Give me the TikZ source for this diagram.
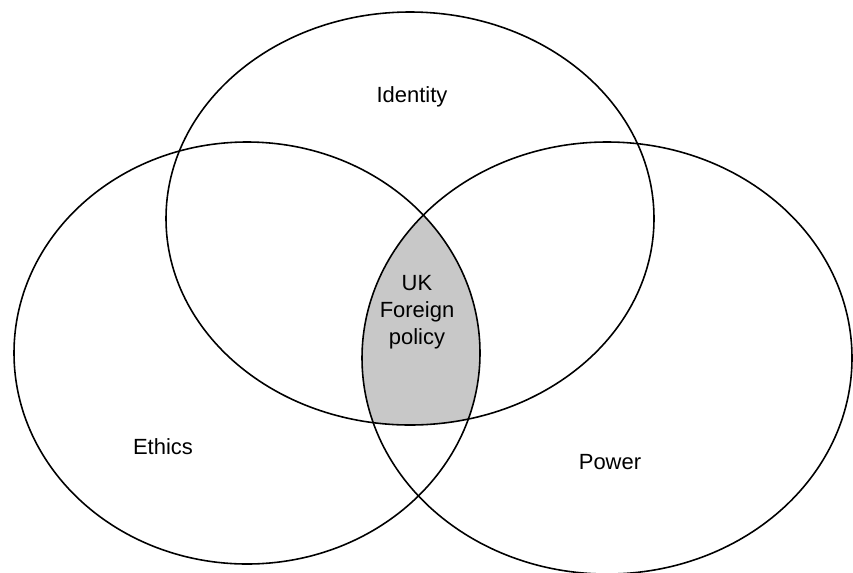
\documentclass[tikz,border=0pt]{standalone}
\usepackage{fontspec}
\setmainfont{Liberation Sans}
\definecolor{lensgray}{RGB}{200,200,200}

\tikzset{
    ring/.style={draw=black,line width=0.9pt},
    lbl/.style={font=\fontsize{12.5}{15.4}\selectfont,inner sep=1pt,align=center}
}

\begin{document}
\begin{tikzpicture}[x=0.2mm, y=-0.2mm]
        \useasboundingbox (0,0) rectangle (853,572);

        \coordinate (identity) at (410,218.5);
        \coordinate (ethics) at (247,353);
        \coordinate (power) at (607,358);

        % shaded centre
        \begin{scope}
            \clip (identity) ellipse (244 and 206.5);
            \clip (ethics) ellipse (233 and 211);
            \fill[lensgray] (power) ellipse (245 and 216);
        \end{scope}

        \draw[ring] (identity) ellipse (244 and 206.5);
        \draw[ring] (ethics) ellipse (233 and 211);
        \draw[ring] (power) ellipse (245 and 216);

        \node[lbl] (idtext) at (412,97) {Identity};
        \node[lbl] (ethtext) at (163,447) {Ethics};
        \node[lbl] (powtext) at (610,462) {Power};
        \node[lbl] (uktext) at (417,312) {UK\\Foreign\\policy};
    \end{tikzpicture}
\end{document}
